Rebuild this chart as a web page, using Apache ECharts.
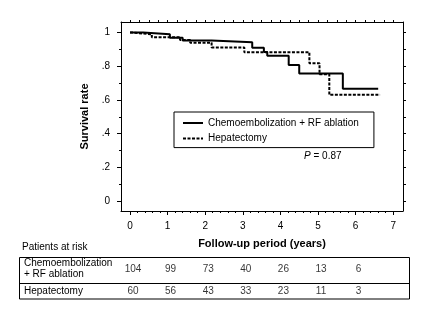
<!DOCTYPE html>
<html>
<head>
<meta charset="utf-8">
<script src="https://cdn.jsdelivr.net/npm/echarts@6/dist/echarts.min.js"></script>
<style>
html,body{margin:0;padding:0;background:#fff;}
#chart{width:448px;height:336px;}
</style>
</head>
<body>
<div id="chart"></div>
<script>
// ---- data ----
const seriesNames = ['Chemoembolization + RF ablation', 'Hepatectomy'];
const chemoTimes = [0, 0.35, 1.06, 1.4, 2.17, 3.25, 3.56, 3.65, 4.22, 4.5, 5.66, 6.6];
const chemoSurv  = [1.0, 0.99, 0.97, 0.953, 0.943, 0.91, 0.885, 0.862, 0.808, 0.757, 0.667, 0.667];
const hepTimes   = [0, 0.08, 0.58, 1.33, 1.6, 2.17, 3.04, 4.77, 5.04, 5.3, 6.65];
const hepSurv    = [1.0, 0.99, 0.973, 0.956, 0.94, 0.912, 0.883, 0.818, 0.752, 0.63, 0.63];
const xTicks = [0, 1, 2, 3, 4, 5, 6, 7];
const yTicks = [0, 0.2, 0.4, 0.6, 0.8, 1];
const yTickLabels = ['0', '.2', '.4', '.6', '.8', '1'];
const riskYears = [0, 1, 2, 3, 4, 5, 6];
const chemoRisk = [104, 99, 73, 40, 26, 13, 6];
const hepRisk = [60, 56, 43, 33, 23, 11, 3];
const riskRows = ['chemo', 'hep'];
const pText = '0.87';

// ---- helpers ----
const FONT = 'Arial, "Liberation Sans", sans-serif';
function zip(a, b) { return a.map((v, i) => [v, b[i]]); }
const xMinor = [];
for (let i = 0; i <= 35; i++) { const v = +(i * 0.2).toFixed(2); if (Math.abs(v - Math.round(v)) > 1e-6 && v <= 7) xMinor.push(v); }
const xTop = [];
for (let i = 0; i <= 28; i++) xTop.push(i * 0.25);
const yMinor = [0.1, 0.3, 0.5, 0.7, 0.9];
const yRight = [];
for (let i = 0; i <= 10; i++) yRight.push(+(i * 0.1).toFixed(1));

const XMIN = -0.24, XMAX = 7.26, YMIN = -0.06, YMAX = 1.063;
const lineOn = { show: true, onZero: false, lineStyle: { color: '#000', width: 1 } };
const lineOff = { show: false, onZero: false };

const chart = echarts.init(document.getElementById('chart'));
const option = {
  backgroundColor: '#fff',
  animation: false,
  grid: [
    { left: 121, right: 45, top: 22, bottom: 125 },
    { left: 121, right: 45, top: 258.5, height: 43 }
  ],
  legend: {
    data: seriesNames,
    orient: 'vertical',
    left: 174, top: 112,
    padding: [6, 15, 4, 8],
    itemGap: 5.6,
    itemWidth: 20, itemHeight: 10,
    borderColor: '#000', borderWidth: 1,
    itemStyle: { opacity: 0 },
    textStyle: { fontSize: 10, color: '#000', fontFamily: FONT }
  },
  xAxis: [
    { type: 'value', gridIndex: 0, position: 'bottom', min: XMIN, max: XMAX,
      axisLine: lineOn, splitLine: { show: false },
      axisTick: { show: true, customValues: xTicks, length: 4, lineStyle: { color: '#000' } },
      axisLabel: { customValues: xTicks, margin: 10, fontSize: 10, color: '#000', fontFamily: FONT },
      name: 'Follow-up period (years)', nameLocation: 'middle', nameGap: 27,
      nameTextStyle: { fontSize: 11, fontWeight: 'bold', color: '#000', fontFamily: FONT } },
    { type: 'value', gridIndex: 0, position: 'bottom', min: XMIN, max: XMAX,
      axisLine: lineOff, splitLine: { show: false },
      axisTick: { show: true, customValues: xMinor, length: 2, lineStyle: { color: '#000' } },
      axisLabel: { show: false } },
    { type: 'value', gridIndex: 0, position: 'top', min: XMIN, max: XMAX,
      axisLine: lineOn, splitLine: { show: false },
      axisTick: { show: true, customValues: xTop, length: 2, lineStyle: { color: '#000' } },
      axisLabel: { show: false } },
    { type: 'value', gridIndex: 1, min: XMIN, max: XMAX, show: false }
  ],
  yAxis: [
    { type: 'value', gridIndex: 0, position: 'left', min: YMIN, max: YMAX,
      axisLine: lineOn, splitLine: { show: false },
      axisTick: { show: true, customValues: yTicks, length: 4, lineStyle: { color: '#000' } },
      axisLabel: { customValues: yTicks, margin: 11, fontSize: 10, color: '#000', fontFamily: FONT,
        formatter: function (v) { const i = yTicks.findIndex(t => Math.abs(t - v) < 1e-6); return i >= 0 ? yTickLabels[i] : ''; } },
      name: 'Survival rate', nameLocation: 'middle', nameGap: 26,
      nameTextStyle: { fontSize: 11, fontWeight: 'bold', color: '#000', fontFamily: FONT } },
    { type: 'value', gridIndex: 0, position: 'left', min: YMIN, max: YMAX,
      axisLine: lineOff, splitLine: { show: false },
      axisTick: { show: true, customValues: yMinor, length: 2, lineStyle: { color: '#000' } },
      axisLabel: { show: false } },
    { type: 'value', gridIndex: 0, position: 'right', min: YMIN, max: YMAX,
      axisLine: lineOn, splitLine: { show: false },
      axisTick: { show: true, customValues: yRight, length: 3, lineStyle: { color: '#000' } },
      axisLabel: { show: false } },
    { type: 'category', gridIndex: 1, data: riskRows, inverse: true, show: false }
  ],
  series: [
    { name: seriesNames[0], type: 'line', step: 'end', xAxisIndex: 0, yAxisIndex: 0,
      data: zip(chemoTimes, chemoSurv), symbol: 'none', color: '#000',
      lineStyle: { color: '#000', width: 2 } },
    { name: seriesNames[1], type: 'line', step: 'end', xAxisIndex: 0, yAxisIndex: 0,
      data: zip(hepTimes, hepSurv), symbol: 'none', color: '#000',
      lineStyle: { color: '#000', width: 2, type: [3, 1.5] } },
    { type: 'scatter', xAxisIndex: 3, yAxisIndex: 3, symbolSize: 0, silent: true,
      data: riskYears.map((x, i) => [x, riskRows[0], chemoRisk[i]]),
      label: { show: true, position: 'inside', offset: [3, 0], formatter: p => String(p.value[2]),
        fontSize: 10, color: '#000', fontFamily: FONT } },
    { type: 'scatter', xAxisIndex: 3, yAxisIndex: 3, symbolSize: 0, silent: true,
      data: riskYears.map((x, i) => [x, riskRows[1], hepRisk[i]]),
      label: { show: true, position: 'inside', offset: [3, 0], formatter: p => String(p.value[2]),
        fontSize: 10, color: '#000', fontFamily: FONT } }
  ],
  graphic: [
    { type: 'text', x: 304, y: 156, style: { text: '{i|P} = ' + pText, fill: '#000', font: '10px ' + FONT, verticalAlign: 'middle',
      rich: { i: { fontStyle: 'italic', fontSize: 10, fontFamily: FONT, fill: '#000' } } } },
    { type: 'text', x: 22, y: 247, style: { text: 'Patients at risk', fill: '#000', font: '10px ' + FONT, verticalAlign: 'middle' } },
    { type: 'rect', shape: { x: 19.5, y: 257.5, width: 390, height: 41.5 }, style: { fill: 'none', stroke: '#000', lineWidth: 1 } },
    { type: 'line', shape: { x1: 19.5, y1: 283.5, x2: 409.5, y2: 283.5 }, style: { stroke: '#000', lineWidth: 1 } },
    { type: 'text', x: 24, y: 263.5, style: { text: 'Chemoembolization', fill: '#000', font: '10px ' + FONT, verticalAlign: 'middle' } },
    { type: 'text', x: 24, y: 274.5, style: { text: '+ RF ablation', fill: '#000', font: '10px ' + FONT, verticalAlign: 'middle' } },
    { type: 'text', x: 24, y: 291, style: { text: 'Hepatectomy', fill: '#000', font: '10px ' + FONT, verticalAlign: 'middle' } }
  ]
};
chart.setOption(option);
</script>
</body>
</html>
